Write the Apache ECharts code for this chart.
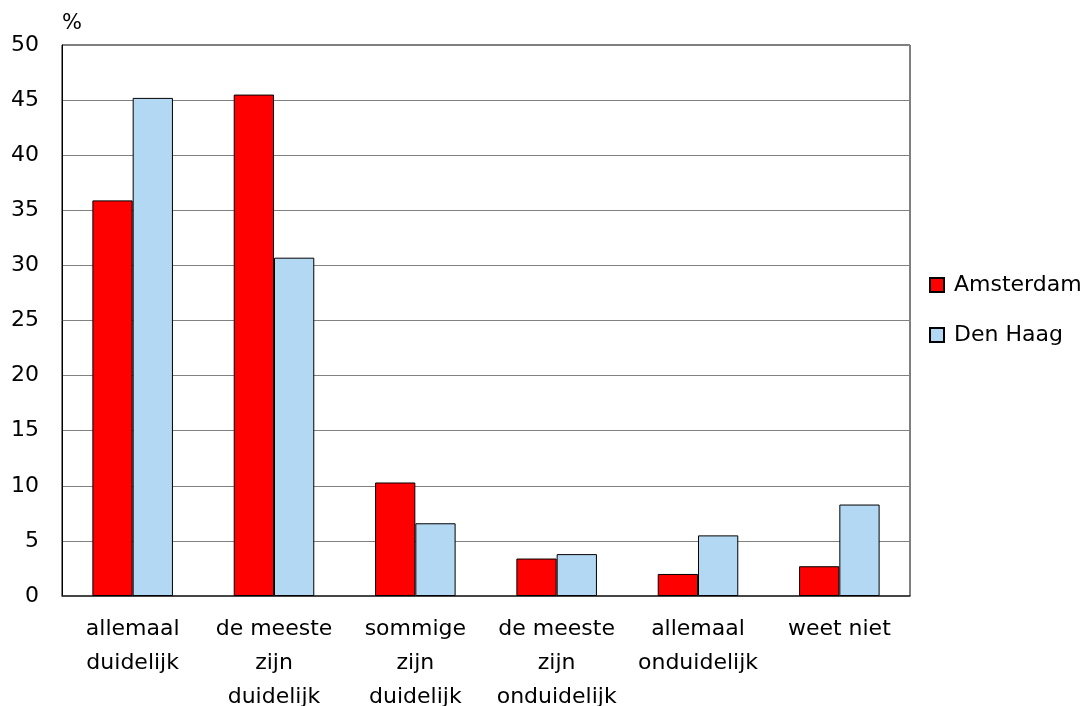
<!DOCTYPE html>
<html>
<head>
<meta charset="utf-8">
<script src="https://cdn.jsdelivr.net/npm/echarts@6/dist/echarts.min.js"></script>
<style>html,body{margin:0;padding:0;background:#fff;}#c{width:1085px;height:706px;}</style>
</head>
<body>
<div id="c"></div>
<script>
var categories = ["allemaal\nduidelijk", "de meeste\nzijn\nduidelijk", "sommige\nzijn\nduidelijk", "de meeste\nzijn\nonduidelijk", "allemaal\nonduidelijk", "weet niet"];
var amsterdam = [35.9, 45.5, 10.3, 3.4, 2.0, 2.7];
var denHaag = [45.2, 30.7, 6.6, 3.8, 5.5, 8.3];
var seriesNames = ["Amsterdam", "Den Haag"];
var yTicks = {min: 0, max: 50, interval: 5};

var FONT = "DejaVu Sans";
var chart = echarts.init(document.getElementById('c'));
chart.setOption({
  animation: false,
  backgroundColor: '#fff',
  grid: {left: 62, top: 45, right: 175, bottom: 110, containLabel: false, outerBoundsMode: 'none',
         show: true, borderColor: '#000', borderWidth: 1, backgroundColor: 'transparent'},
  legend: {
    orient: 'vertical', left: 929, top: 274, padding: 0, itemWidth: 14, itemHeight: 14, itemGap: 28,
    icon: 'rect',
    textStyle: {fontFamily: FONT, fontSize: 22, color: '#000', lineHeight: 21, padding: [0,0,0,5]},
    data: seriesNames
  },
  xAxis: {
    type: 'category', data: categories,
    axisLine: {lineStyle: {color: '#333', width: 1.5}},
    axisTick: {show: false},
    axisLabel: {fontFamily: FONT, fontSize: 22, color: '#000', lineHeight: 34, margin: 16, interval: 0}
  },
  yAxis: {
    type: 'value', min: yTicks.min, max: yTicks.max, interval: yTicks.interval,
    name: '%', nameLocation: 'end', nameGap: 21,
    nameTextStyle: {fontFamily: FONT, fontSize: 21, color: '#000', align: 'left', verticalAlign: 'middle'},
    axisLine: {show: true, lineStyle: {color: '#000', width: 1}},
    axisTick: {show: false},
    splitLine: {lineStyle: {color: '#808080', width: 1}},
    axisLabel: {fontFamily: FONT, fontSize: 22, color: '#000', margin: 23}
  },
  series: [
    {name: seriesNames[0], type: 'bar', data: amsterdam, barGap: '0%', barCategoryGap: '43%',
     itemStyle: {color: '#FF0000', borderColor: '#000', borderWidth: 1}},
    {name: seriesNames[1], type: 'bar', data: denHaag, barGap: '0%', barCategoryGap: '43%',
     itemStyle: {color: '#B3D8F3', borderColor: '#000', borderWidth: 1}}
  ]
});
</script>
</body>
</html>
